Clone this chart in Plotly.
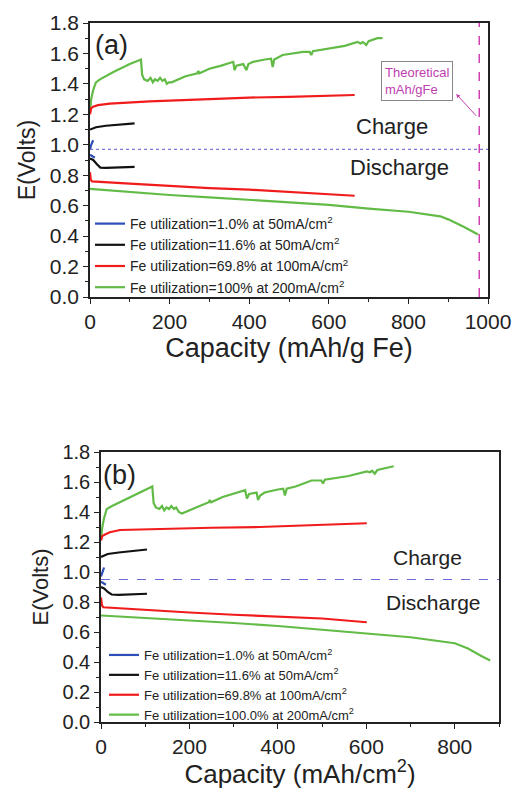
import plotly.graph_objects as go

# ---------------- Panel (a) data : capacity (mAh/g Fe) vs E (V) ----------------
a_blue_ch_x = [0, 3, 8]
a_blue_ch_y = [0.97, 1.00, 1.03]
a_blue_dis_x = [0, 6, 12]
a_blue_dis_y = [0.935, 0.925, 0.915]

a_black_ch_x = [0, 5, 15, 40, 80, 112]
a_black_ch_y = [1.10, 1.105, 1.115, 1.125, 1.135, 1.14]
a_black_dis_x = [0, 8, 18, 26, 40, 70, 112]
a_black_dis_y = [0.91, 0.90, 0.87, 0.85, 0.848, 0.85, 0.855]

a_red_ch_x = [0, 3, 8, 20, 50, 150, 300, 400, 500, 600, 665]
a_red_ch_y = [1.20, 1.24, 1.25, 1.26, 1.27, 1.285, 1.30, 1.31, 1.315, 1.322, 1.327]
a_red_dis_x = [0, 2, 5, 30, 100, 200, 300, 400, 500, 600, 665]
a_red_dis_y = [0.82, 0.77, 0.76, 0.755, 0.745, 0.73, 0.715, 0.705, 0.69, 0.675, 0.665]

a_green_ch_x = [0, 3, 8, 15, 25, 60, 100, 128, 131, 136, 145, 152, 158, 163, 170, 176, 182, 188, 193, 198, 205,
                240, 270, 272, 275, 300, 330, 355, 360, 363, 368, 385, 390, 393, 398, 410, 440, 455, 459, 463,
                484, 510, 535, 552, 556, 560, 580, 610, 640, 672, 680, 686, 694, 700, 710, 722, 735]
a_green_ch_y = [1.22, 1.30, 1.36, 1.41, 1.43, 1.48, 1.53, 1.56, 1.46, 1.43, 1.42, 1.44, 1.41, 1.43, 1.42, 1.44,
                1.42, 1.43, 1.40, 1.41, 1.41, 1.45, 1.47, 1.485, 1.47, 1.50, 1.52, 1.54, 1.545, 1.49, 1.52, 1.53,
                1.51, 1.49, 1.53, 1.545, 1.56, 1.565, 1.51, 1.56, 1.59, 1.60, 1.61, 1.61, 1.59, 1.615, 1.625,
                1.64, 1.65, 1.675, 1.665, 1.675, 1.655, 1.68, 1.69, 1.70, 1.70]
a_green_dis_x = [0, 100, 200, 300, 400, 500, 600, 700, 800, 880, 900, 940, 975]
a_green_dis_y = [0.71, 0.69, 0.67, 0.655, 0.64, 0.62, 0.605, 0.58, 0.56, 0.53, 0.51, 0.46, 0.41]

a_labels = ["Fe utilization=1.0% at 50mA/cm<sup>2</sup>",
            "Fe utilization=11.6% at 50mA/cm<sup>2</sup>",
            "Fe utilization=69.8% at 100mA/cm<sup>2</sup>",
            "Fe utilization=100% at 200mA/cm<sup>2</sup>"]
a_divider_v = 0.97
a_theoretical = 978

# ---------------- Panel (b) data : capacity (mAh/cm2) vs E (V) ----------------
b_blue_ch_x = [0, 3, 7]
b_blue_ch_y = [0.97, 1.00, 1.03]
b_blue_dis_x = [0, 5, 11]
b_blue_dis_y = [0.935, 0.925, 0.915]

b_black_ch_x = [0, 5, 15, 40, 75, 104]
b_black_ch_y = [1.10, 1.105, 1.12, 1.13, 1.14, 1.15]
b_black_dis_x = [0, 7, 16, 24, 40, 70, 104]
b_black_dis_y = [0.90, 0.89, 0.865, 0.85, 0.848, 0.85, 0.855]

b_red_ch_x = [0, 3, 9, 20, 43, 150, 250, 359, 450, 540, 601]
b_red_ch_y = [1.21, 1.24, 1.25, 1.265, 1.28, 1.29, 1.295, 1.30, 1.31, 1.318, 1.325]
b_red_dis_x = [0, 2, 5, 30, 100, 200, 300, 400, 500, 601]
b_red_dis_y = [0.83, 0.78, 0.765, 0.76, 0.75, 0.73, 0.715, 0.705, 0.69, 0.665]

b_green_ch_x = [0, 3, 7, 13, 25, 60, 95, 116, 119, 124, 132, 138, 143, 148, 154, 159, 165, 170, 176, 183,
                215, 244, 246, 249, 275, 300, 321, 326, 330, 335, 352, 355, 360, 370, 400, 412, 416, 420,
                440, 476, 498, 502, 506, 530, 560, 601, 608, 613, 619, 625, 640, 650, 662]
b_green_ch_y = [1.22, 1.30, 1.36, 1.42, 1.44, 1.49, 1.54, 1.57, 1.46, 1.43, 1.42, 1.44, 1.41, 1.43, 1.42,
                1.44, 1.42, 1.43, 1.40, 1.39, 1.43, 1.465, 1.48, 1.465, 1.50, 1.52, 1.54, 1.545, 1.49, 1.52,
                1.53, 1.48, 1.51, 1.53, 1.55, 1.555, 1.51, 1.555, 1.57, 1.61, 1.61, 1.59, 1.615, 1.625,
                1.64, 1.67, 1.665, 1.675, 1.655, 1.68, 1.69, 1.70, 1.705]
b_green_dis_x = [0, 100, 200, 300, 400, 500, 600, 700, 800, 830, 860, 880]
b_green_dis_y = [0.71, 0.695, 0.68, 0.66, 0.64, 0.615, 0.59, 0.565, 0.525, 0.49, 0.44, 0.41]

b_labels = ["Fe utilization=1.0% at 50mA/cm<sup>2</sup>",
            "Fe utilization=11.6% at 50mA/cm<sup>2</sup>",
            "Fe utilization=69.8% at 100mA/cm<sup>2</sup>",
            "Fe utilization=100.0% at 200mA/cm<sup>2</sup>"]
b_divider_v = 0.95

COLORS = ["#2f4fb8", "#111111", "#f01c1c", "#62bb46"]
FONT = "Liberation Sans, Arial, sans-serif"

fig = go.Figure()


def joined(cx, cy, dx, dy):
    return list(cx) + [None] + list(dx), list(cy) + [None] + list(dy)


a_series = [
    (a_blue_ch_x, a_blue_ch_y, a_blue_dis_x, a_blue_dis_y),
    (a_black_ch_x, a_black_ch_y, a_black_dis_x, a_black_dis_y),
    (a_red_ch_x, a_red_ch_y, a_red_dis_x, a_red_dis_y),
    (a_green_ch_x, a_green_ch_y, a_green_dis_x, a_green_dis_y),
]
b_series = [
    (b_blue_ch_x, b_blue_ch_y, b_blue_dis_x, b_blue_dis_y),
    (b_black_ch_x, b_black_ch_y, b_black_dis_x, b_black_dis_y),
    (b_red_ch_x, b_red_ch_y, b_red_dis_x, b_red_dis_y),
    (b_green_ch_x, b_green_ch_y, b_green_dis_x, b_green_dis_y),
]

# divider / theoretical lines (drawn under the data)
fig.add_trace(go.Scatter(x=[0, 1000], y=[a_divider_v, a_divider_v], mode="lines",
                         line=dict(color="#7a7ad8", width=1.2, dash="dot"),
                         showlegend=False, xaxis="x", yaxis="y", hoverinfo="skip"))
fig.add_trace(go.Scatter(x=[a_theoretical, a_theoretical], y=[0, 1.8], mode="lines",
                         line=dict(color="#d040b0", width=1.5, dash="dash"),
                         showlegend=False, xaxis="x", yaxis="y", hoverinfo="skip"))
fig.add_trace(go.Scatter(x=[0, 900], y=[b_divider_v, b_divider_v], mode="lines",
                         line=dict(color="#6a6ad8", width=1.2, dash="dash"),
                         showlegend=False, xaxis="x2", yaxis="y2", hoverinfo="skip"))

for i in range(3, -1, -1):
    xs, ys = joined(*a_series[i])
    fig.add_trace(go.Scatter(x=xs, y=ys, mode="lines", name=a_labels[i],
                             line=dict(color=COLORS[i], width=2.2),
                             xaxis="x", yaxis="y", legend="legend", legendrank=i + 1))
for i in range(3, -1, -1):
    xs, ys = joined(*b_series[i])
    fig.add_trace(go.Scatter(x=xs, y=ys, mode="lines", name=b_labels[i],
                             line=dict(color=COLORS[i], width=2.2),
                             xaxis="x2", yaxis="y2", legend="legend2", legendrank=i + 1))

W, H = 515, 789
# plot-area pixel boxes
ax_a = dict(l=90, r=488, t=23, b=297)
ax_b = dict(l=101, r=499, t=452, b=722)

tickfont = dict(family=FONT, size=21, color="#222")
common_axis = dict(showline=True, linecolor="#222", linewidth=1.5, mirror=True,
                   ticks="outside", ticklen=5, tickwidth=1.3, tickcolor="#222",
                   showgrid=False, zeroline=False, tickfont=tickfont, automargin=False)
minor_x = dict(dtick=100, ticks="outside", ticklen=3, tickcolor="#222")
minor_y = dict(dtick=0.1, ticks="outside", ticklen=3, tickcolor="#222")

fig.update_layout(
    width=W, height=H,
    margin=dict(l=0, r=0, t=0, b=0, autoexpand=False),
    paper_bgcolor="white", plot_bgcolor="white",
    font=dict(family=FONT, color="#222"),
    xaxis=dict(domain=[ax_a["l"] / W, ax_a["r"] / W], anchor="y", range=[0, 1000], dtick=200,
               minor=minor_x,
               title=dict(text="Capacity (mAh/g Fe)", font=dict(family=FONT, size=27, color="#222"), standoff=6),
               **common_axis),
    yaxis=dict(domain=[1 - ax_a["b"] / H, 1 - ax_a["t"] / H], anchor="x", range=[0, 1.8], dtick=0.2,
               tickformat=".1f", minor=minor_y,
               title=dict(text="E(Volts)", font=dict(family=FONT, size=23, color="#222"), standoff=8),
               **common_axis),
    xaxis2=dict(domain=[ax_b["l"] / W, ax_b["r"] / W], anchor="y2", range=[0, 900], dtick=200,
                minor=minor_x,
                title=dict(text="Capacity (mAh/cm<sup>2</sup>)", font=dict(family=FONT, size=26, color="#222"),
                           standoff=6),
                **common_axis),
    yaxis2=dict(domain=[1 - ax_b["b"] / H, 1 - ax_b["t"] / H], anchor="x2", range=[0, 1.8], dtick=0.2,
                tickformat=".1f", minor=minor_y,
                title=dict(text="E(Volts)", font=dict(family=FONT, size=22, color="#222"), standoff=8),
                **{**common_axis, "tickfont": dict(family=FONT, size=20, color="#222")}),
    legend=dict(x=90 / W, y=1 - 208 / H, xanchor="left", yanchor="top", bgcolor="rgba(0,0,0,0)",
                font=dict(family=FONT, size=14, color="#222"), tracegroupgap=0, itemwidth=30,
                traceorder="normal"),
    legend2=dict(x=104 / W, y=1 - 640 / H, xanchor="left", yanchor="top", bgcolor="rgba(0,0,0,0)",
                 font=dict(family=FONT, size=13, color="#222"), tracegroupgap=0, itemwidth=30,
                 traceorder="normal"),
)

ann = []
ann.append(dict(x=55, y=1.656, xref="x", yref="y", text="(a)", showarrow=False,
                font=dict(family=FONT, size=27, color="#222")))
ann.append(dict(x=41, y=1.647, xref="x2", yref="y2", text="(b)", showarrow=False,
                font=dict(family=FONT, size=27, color="#222")))
ann.append(dict(x=759, y=1.123, xref="x", yref="y", text="Charge", showarrow=False,
                font=dict(family=FONT, size=22, color="#222")))
ann.append(dict(x=777, y=0.854, xref="x", yref="y", text="Discharge", showarrow=False,
                font=dict(family=FONT, size=22, color="#222")))
ann.append(dict(x=739, y=1.10, xref="x2", yref="y2", text="Charge", showarrow=False,
                font=dict(family=FONT, size=21, color="#222")))
ann.append(dict(x=752, y=0.80, xref="x2", yref="y2", text="Discharge", showarrow=False,
                font=dict(family=FONT, size=21, color="#222")))
ann.append(dict(x=822, y=1.42, xref="x", yref="y", text="Theoretical<br>mAh/gFe", showarrow=False,
                align="left", bordercolor="#888", borderwidth=1, borderpad=3,
                font=dict(family=FONT, size=13, color="#c040b0")))
ann.append(dict(x=920, y=1.334, xref="x", yref="y", text=" ", showarrow=True,
                ax=22, ay=24, arrowhead=2, arrowsize=0.8, arrowwidth=1, arrowcolor="#c040b0",
                font=dict(family=FONT, size=2)))
fig.update_layout(annotations=ann)

fig.write_html("out.html", config={"displayModeBar": False},
               post_script="document.body.style.margin='0';document.body.style.padding='0';")
